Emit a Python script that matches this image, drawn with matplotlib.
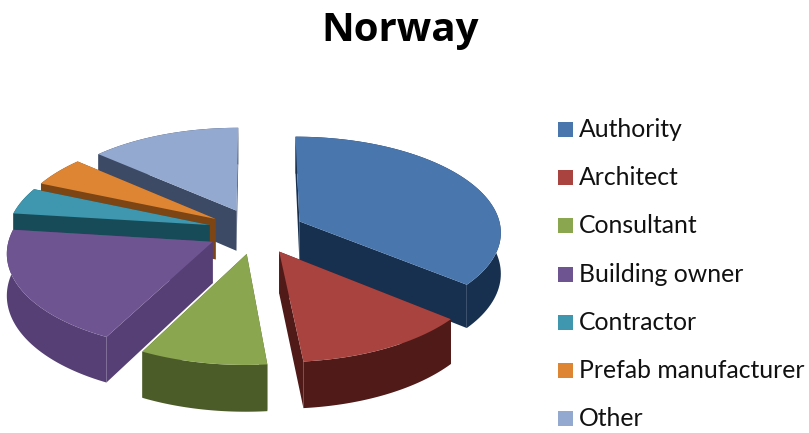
import numpy as np
import matplotlib
matplotlib.use("Agg")
import matplotlib.pyplot as plt
from matplotlib.patches import Polygon, Rectangle

title = "Norway"
categories = ["Authority", "Architect", "Consultant", "Building owner", "Contractor", "Prefab manufacturer", "Other"]
values = [36, 12.5, 9, 19.5, 4.5, 5, 13.5]
top_colors = ["#4A76AE", "#A8433F", "#8AA64F", "#6F5492", "#3E97AE", "#DE8534", "#93A9D0"]
side_colors = ["#17304F", "#4F1A18", "#4C5C28", "#563F74", "#174B58", "#7C4513", "#3D4A66"]

W, H = 809, 433
fig = plt.figure(figsize=(W / 100, H / 100), dpi=100)
ax = fig.add_axes([0, 0, 1, 1])
ax.set_xlim(0, W)
ax.set_ylim(H, 0)
ax.axis("off")

CX, CY, A, B, K, DEPTH, EXPLODE = 256, 231, 202, 95, 0.10, 41, 0.24


def project(x, y, z=0.0):
    s = 1 / (1 + K * y)
    return CX + A * x * s, CY - B * y * s + DEPTH * z * s


total = sum(values)
bounds = 90 - 360 * np.cumsum([0] + values) / total
order = sorted(range(len(values)), key=lambda i: np.sin(np.radians((bounds[i] + bounds[i + 1]) / 2)), reverse=True)

for i in order:
    a0, a1 = bounds[i], bounds[i + 1]
    mid = np.radians((a0 + a1) / 2)
    ox, oy = EXPLODE * np.cos(mid), EXPLODE * np.sin(mid)
    th = np.radians(np.linspace(a0, a1, 80))
    px = ox + np.cos(th)
    py = oy + np.sin(th)
    top = [project(ox, oy)] + [project(x, y) for x, y in zip(px, py)]
    wall = [project(x, y) for x, y in zip(px, py)] + [project(x, y, 1) for x, y in zip(px[::-1], py[::-1])]
    for x, y in [(px[0], py[0]), (px[-1], py[-1])]:
        face = [project(ox, oy), project(x, y), project(x, y, 1), project(ox, oy, 1)]
        ax.add_patch(Polygon(face, closed=True, fc=side_colors[i], ec="none", zorder=2))
    ax.add_patch(Polygon(wall, closed=True, fc=side_colors[i], ec="none", zorder=2))
    ax.add_patch(Polygon(top, closed=True, fc=top_colors[i], ec="none", zorder=2))

ax.text(400.5, 30, title, ha="center", va="center", fontsize=29, fontweight="bold", family="Open Sans", color="black")

for i, name in enumerate(categories):
    y = 129.5 + i * 48.2
    ax.add_patch(Rectangle((558, y - 7.5), 15, 15, fc=top_colors[i], ec="none"))
    ax.text(579, y, name, ha="left", va="center", fontsize=17.85, family="Lato", color="#111111")

fig.savefig("out.png", dpi=100)
